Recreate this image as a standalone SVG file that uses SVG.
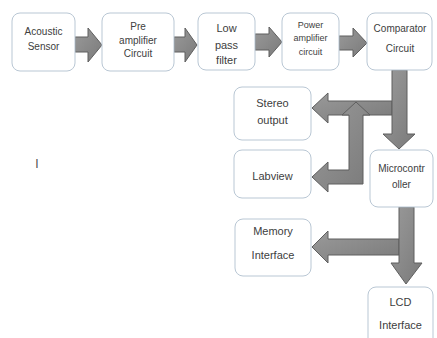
<svg xmlns="http://www.w3.org/2000/svg" width="437" height="338" viewBox="0 0 437 338">
<defs>
<linearGradient id="g" x1="0" y1="0" x2="1" y2="1">
<stop offset="0" stop-color="#9a9a9a"/>
<stop offset="1" stop-color="#7a7a7a"/>
</linearGradient>
<style>
.box{fill:#fff;stroke:#b9c7d4;stroke-width:1}
.arr{fill:url(#g);stroke:#5f5f5f;stroke-width:1;stroke-linejoin:miter}
text{font-family:"Liberation Sans",Arial,sans-serif;fill:#404040;text-anchor:middle}
.t10{font-size:10px}
.t11{font-size:11px}
.t9{font-size:9px}
</style>
</defs>
<rect width="437" height="338" fill="#fff"/>
<g id="connectors">
<polygon class="arr" points="75,37 88,37 88,28 102,45 88,62 88,52 75,52"/>
<polygon class="arr" points="174,37 185,37 185,28 197,45 185,62 185,52 174,52"/>
<polygon class="arr" points="255,34 269,34 269,27 282,42 269,57 269,50 255,50"/>
<polygon class="arr" points="339,36 353,36 353,28 367,43 353,57 353,50 339,50"/>
<polygon class="arr" points="392,101 328,101 328,93 312,108 328,123 328,115 392,115"/>
<polygon class="arr" points="356,102 370,115 363,115 363,184 328,184 328,192 312,177 328,162 328,170 349,170 349,115 342,115"/>
<polygon class="arr" points="392,70 407,70 407,134 415,134 399,149 383,134 392,134"/>
<polygon class="arr" points="399,239 328,239 328,231 312,247 328,263 328,255 399,255"/>
<polygon class="arr" points="399,207 414,207 414,263 422,263 406,284 391,263 399,263"/>
</g>
<g id="acoustic"><rect class="box" x="12" y="13" width="63" height="58" rx="8"/><text class="t10" x="43.5" y="35">Acoustic</text><text class="t10" x="43.5" y="50">Sensor</text></g>
<g id="preamp"><rect class="box" x="102" y="13" width="72" height="58" rx="8"/><text class="t10" x="138" y="30">Pre</text><text class="t10" x="138" y="44">amplifier</text><text class="t10" x="138" y="57">Circuit</text></g>
<g id="lowpass"><rect class="box" x="198" y="13" width="57" height="57" rx="8"/><text class="t11" x="226.5" y="32">Low</text><text class="t11" x="226.5" y="49">pass</text><text class="t11" x="226.5" y="64">filter</text></g>
<g id="poweramp"><rect class="box" x="282" y="13" width="57" height="57" rx="8"/><text class="t9" x="310.5" y="28">Power</text><text class="t9" x="310.5" y="41">amplifier</text><text class="t9" x="310.5" y="55">circuit</text></g>
<g id="comparator"><rect class="box" x="367" y="13" width="65" height="57" rx="8"/><text class="t10" x="400" y="32">Comparator</text><text class="t10" x="400" y="52">Circuit</text></g>
<g id="stereo"><rect class="box" x="234" y="87" width="77" height="53" rx="8"/><text class="t11" x="272.5" y="107">Stereo</text><text class="t11" x="272.5" y="124">output</text></g>
<g id="labview"><rect class="box" x="234" y="150" width="77" height="48" rx="8"/><text class="t11" x="272.5" y="180">Labview</text></g>
<g id="micro"><rect class="box" x="370" y="150" width="63" height="57" rx="8"/><text class="t10" x="401.5" y="172">Microcontr</text><text class="t10" x="401.5" y="188">oller</text></g>
<g id="memory"><rect class="box" x="235" y="219" width="76" height="57" rx="8"/><text class="t11" x="273" y="235">Memory</text><text class="t11" x="273" y="259">Interface</text></g>
<g id="lcd"><rect class="box" x="368" y="287" width="65" height="62" rx="8"/><text class="t11" x="400.5" y="306">LCD</text><text class="t11" x="400.5" y="329">Interface</text></g>
<text x="37" y="168" style="font-size:12px;fill:#505050">I</text>
</svg>
